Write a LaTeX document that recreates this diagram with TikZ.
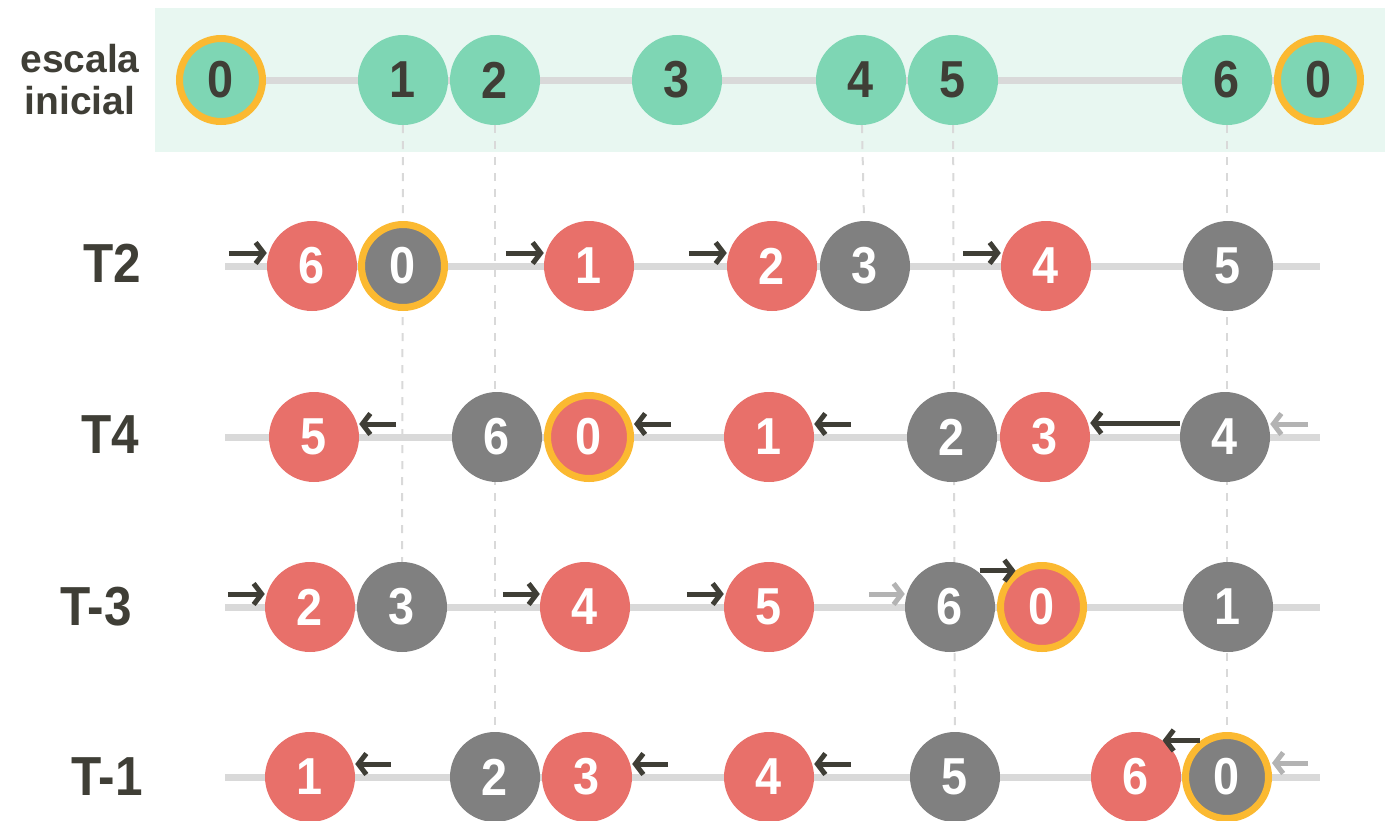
\documentclass[tikz,border=0pt]{standalone}
\usepackage{fontspec}
\setmainfont{Liberation Sans}
\newfontfamily\narrowsans{Liberation Sans}[FakeStretch=0.9]
\usetikzlibrary{arrows.meta,backgrounds}
\definecolor{mint}{HTML}{7ED6B4}
\definecolor{mintbg}{HTML}{E8F7F1}
\definecolor{salmon}{HTML}{E8706A}
\definecolor{slate}{HTML}{808080}
\definecolor{gold}{HTML}{FBB931}
\definecolor{rail}{HTML}{D9D9D9}
\definecolor{ink}{HTML}{3F3E36}
\definecolor{ghost}{HTML}{B3B3B3}
\tikzset{
  ball/.style={circle,inner sep=0pt,minimum size=90pt,text=white,
    font=\narrowsans\fontsize{52}{52}\selectfont\bfseries},
  redball/.style={ball,fill=salmon},
  grayball/.style={ball,fill=slate},
  mintball/.style={ball,fill=mint,text=ink},
  tonic/.style={draw=gold,line width=7pt,minimum size=83pt},
  rowlabel/.style={text=ink,inner sep=0pt,font=\narrowsans\fontsize{55}{55}\selectfont\bfseries},
  arr/.style={draw=ink,line width=5pt,-{Straight Barb[length=8pt,width=21pt]}},
  faint/.style={arr,draw=ghost},
  railline/.style={draw=rail,line width=7pt},
  guide/.style={draw=rail,line width=2pt,dash pattern=on 8pt off 8pt}
}

\begin{document}
\begin{tikzpicture}[x=1pt,y=-1pt]
  \useasboundingbox (0,0) rectangle (1385,820);
  %escala inicial
  \begin{scope}[shift={(0,80)}]
    \node[text=ink,align=center,inner sep=0pt,font=\fontsize{39}{42}\selectfont\bfseries] (l-esc) at (80,0) {escala\\inicial};
    \node[mintball,tonic] (s0) at (221,0) {0};
    \node[mintball] (s1) at (403,0) {1};
    \node[mintball] (s2) at (495,0) {2};
    \node[mintball] (s3) at (677,0) {3};
    \node[mintball] (s4) at (861,0) {4};
    \node[mintball] (s5) at (953,0) {5};
    \node[mintball] (s6) at (1227,0) {6};
    \node[mintball,tonic] (s0b) at (1319,0) {0};
  \end{scope}
  %T2
  \begin{scope}[shift={(0,266)}]
    \node[rowlabel] (l-t2) at (112,-3) {T2};
    \node[redball] (t2-6) at (312,0) {6};
    \node[grayball,tonic] (t2-0) at (403,0) {0};
    \node[redball] (t2-1) at (589,0) {1};
    \node[redball] (t2-2) at (772,0) {2};
    \node[grayball] (t2-3) at (865,0) {3};
    \node[redball] (t2-4) at (1046,0) {4};
    \node[grayball] (t2-5) at (1228,0) {5};
    \draw[arr] ([shift={(-38,-13)}]t2-6.west) -- +(38,0);
    \draw[arr] ([shift={(-38,-13)}]t2-1.west) -- +(38,0);
    \draw[arr] ([shift={(-38,-13)}]t2-2.west) -- +(38,0);
    \draw[arr] ([shift={(-38,-13)}]t2-4.west) -- +(38,0);
  \end{scope}
  %T4
  \begin{scope}[shift={(0,437)}]
    \node[rowlabel] (l-t4) at (110,-2) {T4};
    \node[redball] (t4-5) at (314,0) {5};
    \node[grayball] (t4-6) at (497,0) {6};
    \node[redball,tonic] (t4-0) at (589,0) {0};
    \node[redball] (t4-1) at (769,0) {1};
    \node[grayball] (t4-2) at (952,0) {2};
    \node[redball] (t4-3) at (1045,0) {3};
    \node[grayball] (t4-4) at (1225,0) {4};
    \draw[arr] ([shift={(37,-13)}]t4-5.east) -- +(-37,0);
    \draw[arr] ([shift={(37,-13)}]t4-0.east) -- +(-37,0);
    \draw[arr] ([shift={(37,-13)}]t4-1.east) -- +(-37,0);
    \draw[arr] ([yshift=14pt]t4-4.west) -- ([yshift=14pt]t4-3.east);
    \draw[faint] ([shift={(38,-13)}]t4-4.east) -- +(-38,0);
  \end{scope}
  %T-3
  \begin{scope}[shift={(0,607)}]
    \node[rowlabel] (l-tm3) at (96,0) {T-3};
    \node[redball] (tm3-2) at (310,0) {2};
    \node[grayball] (tm3-3) at (402,0) {3};
    \node[redball] (tm3-4) at (585,0) {4};
    \node[redball] (tm3-5) at (769,0) {5};
    \node[grayball] (tm3-6) at (950,0) {6};
    \node[redball,tonic] (tm3-0) at (1042,0) {0};
    \node[grayball] (tm3-1) at (1228,0) {1};
    \draw[arr] ([shift={(-37,-13)}]tm3-2.west) -- +(37,0);
    \draw[arr] ([shift={(-37,-13)}]tm3-4.west) -- +(37,0);
    \draw[arr] ([shift={(-37,-13)}]tm3-5.west) -- +(37,0);
    \draw[faint] ([shift={(-36,-13)}]tm3-6.west) -- +(36,0);
    \draw[arr] ([shift={(-36,0)}]tm3-0.126) -- (tm3-0.126);
  \end{scope}
  %T-1
  \begin{scope}[shift={(0,777)}]
    \node[rowlabel] (l-tm1) at (107,0) {T-1};
    \node[redball] (tm1-1) at (310,0) {1};
    \node[grayball] (tm1-2) at (495,0) {2};
    \node[redball] (tm1-3) at (587,0) {3};
    \node[redball] (tm1-4) at (769,0) {4};
    \node[grayball] (tm1-5) at (955,0) {5};
    \node[redball] (tm1-6) at (1136,0) {6};
    \node[grayball,tonic] (tm1-0) at (1227,0) {0};
    \draw[arr] ([shift={(36,-13)}]tm1-1.east) -- +(-36,0);
    \draw[arr] ([shift={(36,-13)}]tm1-3.east) -- +(-36,0);
    \draw[arr] ([shift={(37,-13)}]tm1-4.east) -- +(-37,0);
    \draw[arr] ([shift={(37,0)}]tm1-6.54) -- (tm1-6.54);
    \draw[faint] ([shift={(36,-14)}]tm1-0.east) -- +(-36,0);
  \end{scope}
  %band, rails and guides
  \begin{scope}[on background layer]
    \fill[mintbg] (155,8) rectangle (1385,152);
    \draw[railline] (s0) -- (s0b);
    \draw[railline] (225,266) -- (1320,266);
    \draw[railline] (225,437) -- (1320,437);
    \draw[railline] (225,607) -- (1320,607);
    \draw[railline] (225,777) -- (1320,777);
    \draw[guide] (s1) -- (tm3-3);
    \draw[guide] (s2) -- (tm1-2);
    \draw[guide] (s4) -- (t2-3);
    \draw[guide] (s5) -- (tm1-5);
    \draw[guide] (s6) -- (tm1-0);
  \end{scope}
\end{tikzpicture}
\end{document}
